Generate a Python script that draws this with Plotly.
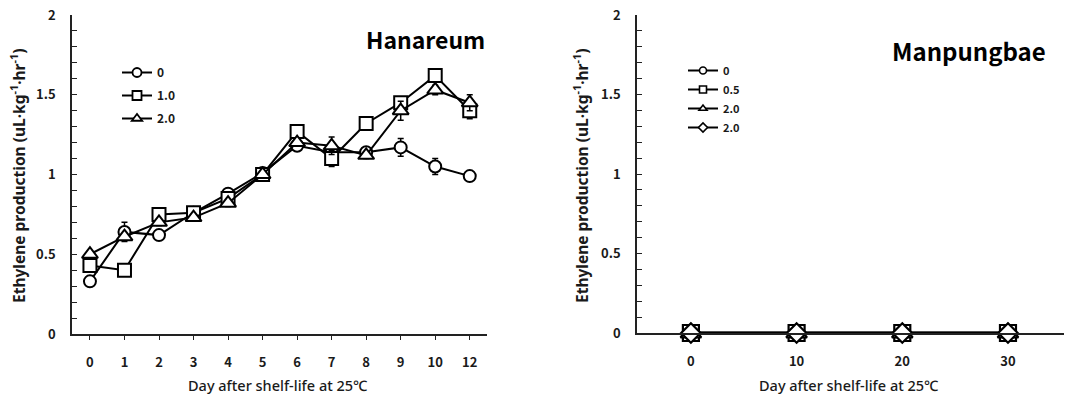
import plotly.graph_objects as go

# ---- data ----
days_h = ["0", "1", "2", "3", "4", "5", "6", "7", "8", "9", "10", "12"]
h_names = ["0", "1.0", "2.0"]
h_0 = [0.33, 0.64, 0.62, 0.76, 0.88, 1.01, 1.18, 1.14, 1.14, 1.17, 1.05, 0.99]
h_0_err = [0.01, 0.06, 0.02, 0.02, 0.02, 0.02, 0.02, 0.02, 0.02, 0.055, 0.05, 0.02]
h_1 = [0.43, 0.40, 0.75, 0.76, 0.85, 1.00, 1.27, 1.10, 1.32, 1.45, 1.62, 1.40]
h_1_err = [0.02, 0.02, 0.02, 0.02, 0.02, 0.02, 0.02, 0.05, 0.02, 0.03, 0.02, 0.05]
h_2 = [0.50, 0.61, 0.70, 0.73, 0.82, 1.00, 1.20, 1.18, 1.12, 1.40, 1.53, 1.45]
h_2_err = [0.02, 0.02, 0.02, 0.02, 0.02, 0.02, 0.02, 0.055, 0.02, 0.06, 0.03, 0.05]

days_m = [0, 10, 20, 30]
m_names = ["0", "0.5", "2.0", "2.0"]
m_0 = [0, 0, 0, 0]
m_1 = [0, 0, 0, 0]
m_2 = [0, 0, 0, 0]
m_3 = [0, 0, 0, 0]

y_ticks = [0, 0.5, 1, 1.5, 2]
y_ticklabels = ["0", "0.5", "1", "1.5", "2"]
m_xticks = [0, 10, 20, 30]

# page geometry (body margin is removed in the page, figure fills the window)
W, H = 1066, 398


def fx(px):
    return px / W


def fy(py):
    return 1 - py / H


FONT = "Noto Sans CJK KR"
TFONT = "Noto Sans, Noto Sans CJK KR"
TXT = "#1a1a1a"

fig = go.Figure()

h_series = [(h_0, h_0_err, "circle", 12), (h_1, h_1_err, "square", 13), (h_2, h_2_err, "triangle-up", 14)]
for (vals, err, sym, sz), name in zip(h_series, h_names):
    fig.add_trace(go.Scatter(
        x=days_h, y=vals, mode="lines+markers", showlegend=False,
        line=dict(color="black", width=2),
        marker=dict(symbol=sym, size=sz, color="white", line=dict(color="black", width=2)),
        error_y=dict(type="data", array=err, visible=True, color="black", thickness=1.5, width=3),
        xaxis="x", yaxis="y",
    ))
for i, ((vals, err, sym, sz), name) in enumerate(zip(h_series, h_names)):
    fig.add_trace(go.Scatter(
        x=[None], y=[None], mode="lines+markers", name=name, legend="legend",
        legendgroup="h" + str(i),
        line=dict(color="black", width=2),
        marker=dict(symbol=sym, size=9, color="white", line=dict(color="black", width=1.8)),
        xaxis="x", yaxis="y",
    ))

m_series = [(m_0, "circle", 16), (m_1, "square", 16), (m_2, "triangle-up", 18), (m_3, "diamond", 15)]
for (vals, sym, sz), name in zip(m_series, m_names):
    fig.add_trace(go.Scatter(
        x=days_m, y=vals, mode="lines+markers", showlegend=False,
        line=dict(color="black", width=2.5),
        marker=dict(symbol=sym, size=sz, color="white", line=dict(color="black", width=2.2)),
        xaxis="x2", yaxis="y2", cliponaxis=False,
    ))
for i, ((vals, sym, sz), name) in enumerate(zip(m_series, m_names)):
    fig.add_trace(go.Scatter(
        x=[None], y=[None], mode="lines+markers", name=name, legend="legend2",
        legendgroup="m" + str(i),
        line=dict(color="black", width=2),
        marker=dict(symbol=sym, size=7, color="white", line=dict(color="black", width=1.6)),
        xaxis="x2", yaxis="y2",
    ))

tickfont = dict(family=FONT, size=13, color=TXT, weight="bold")

yax_common = dict(
    range=[0, 2], tickvals=y_ticks, ticktext=y_ticklabels, automargin=False,
    showline=True, linecolor="#222", linewidth=1.5, showgrid=False, zeroline=False,
    ticks="inside", ticklen=5, tickcolor="#222", tickwidth=1,
    minor=dict(dtick=0.1, ticks="inside", ticklen=5, tickcolor="#222", tickwidth=1, showgrid=False),
    tickfont=tickfont, ticklabelstandoff=12, ticklabeloverflow="allow",
)

fig.update_layout(
    width=W, height=H,
    margin=dict(l=0, r=0, t=0, b=0, autoexpand=False),
    paper_bgcolor="white", plot_bgcolor="white",
    font=dict(family=FONT, color=TXT),
    xaxis=dict(
        domain=[fx(72), fx(487)], type="category", range=[-0.52, 11.5],
        categoryorder="array", categoryarray=days_h, automargin=False,
        showline=True, linecolor="#222", linewidth=1.5, showgrid=False, zeroline=False,
        ticks="outside", ticklen=4, tickcolor="#222", tickwidth=1,
        tickfont=tickfont, ticklabelstandoff=12, ticklabeloverflow="allow", anchor="y",
    ),
    yaxis=dict(domain=[fy(334), fy(15)], anchor="x", **yax_common),
    xaxis2=dict(
        domain=[fx(637), fx(1064)], range=[-5.1, 35.3], tickvals=m_xticks, automargin=False,
        showline=True, linecolor="#222", linewidth=1.5, showgrid=False, zeroline=False,
        ticks="", tickfont=tickfont, ticklabelstandoff=16, ticklabeloverflow="allow", anchor="y2",
    ),
    yaxis2=dict(domain=[fy(333), fy(15)], anchor="x2", **yax_common),
    legend=dict(
        x=fx(117), y=fy(58), xanchor="left", yanchor="top",
        bgcolor="rgba(0,0,0,0)", borderwidth=0, traceorder="grouped", tracegroupgap=4,
        font=dict(family=FONT, size=12, color=TXT, weight="bold"),
        itemwidth=30,
    ),
    legend2=dict(
        x=fx(683), y=fy(56), xanchor="left", yanchor="top",
        bgcolor="rgba(0,0,0,0)", borderwidth=0, traceorder="grouped", tracegroupgap=0,
        font=dict(family=FONT, size=11, color=TXT, weight="bold"),
        itemwidth=30,
    ),
)

ytitle = "Ethylene production (uL·kg<sup>-1</sup>·hr<sup>-1</sup>)"
xtitle = "Day after shelf-life at 25℃"
ann = [
    dict(text=ytitle, x=fx(18), y=fy(176), textangle=-90,
         font=dict(family=TFONT, size=15.5, color=TXT, weight="bold")),
    dict(text=ytitle, x=fx(581), y=fy(176), textangle=-90,
         font=dict(family=TFONT, size=15.5, color=TXT, weight="bold")),
    dict(text=xtitle, x=fx(278), y=fy(385),
         font=dict(family=TFONT, size=14.5, color=TXT, weight=500)),
    dict(text=xtitle, x=fx(849), y=fy(385),
         font=dict(family=TFONT, size=14.5, color=TXT, weight=500)),
    dict(text="Hanareum", x=fx(425), y=fy(39),
         font=dict(family=FONT, size=23, color="black", weight="bold")),
    dict(text="Manpungbae", x=fx(969), y=fy(51),
         font=dict(family=FONT, size=24, color="black", weight="bold")),
]
for a in ann:
    fig.add_annotation(xref="paper", yref="paper", showarrow=False,
                       xanchor="center", yanchor="middle", **a)

fig.write_html("out.html", config={"displayModeBar": False},
               post_script="document.body.style.margin='0px';")
